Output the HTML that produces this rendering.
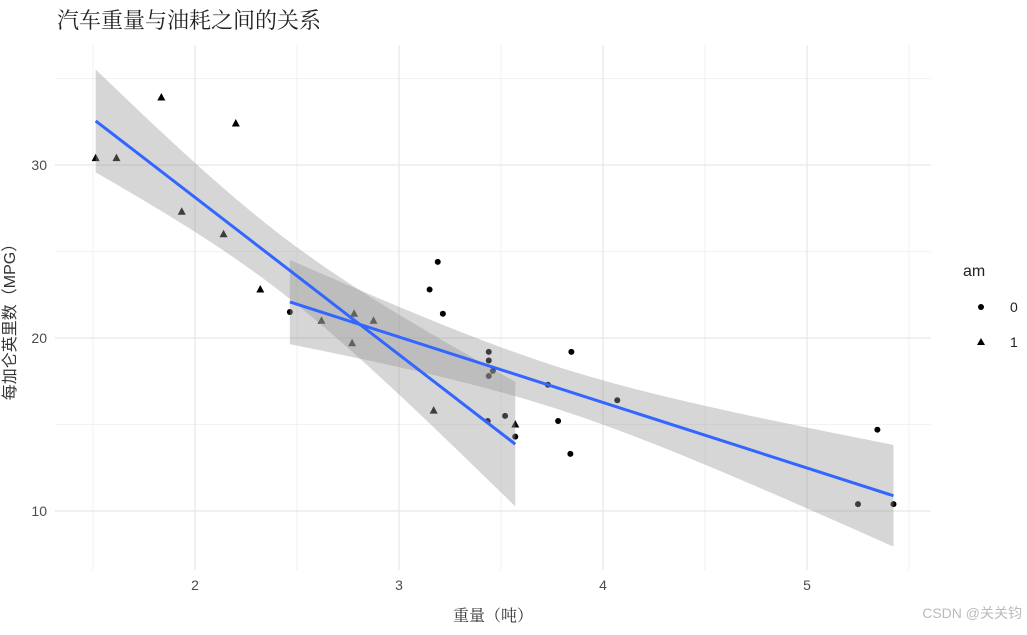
<!DOCTYPE html>
<html><head><meta charset="utf-8"><style>
body{margin:0;background:#fff;}
svg text{font-family:"Liberation Sans","Noto Sans CJK SC",sans-serif;}
</style></head><body>
<svg id="c" width="1027" height="630">
<text x="57" y="28" font-size="22" fill="#222" style="font-family:'Noto Serif CJK SC','Noto Sans CJK SC',serif">汽车重量与油耗之间的关系</text>
<g id="grid"></g><g id="pts"></g><g id="bands"></g><g id="lines"></g><g id="axes"></g>
<text x="493" y="621" font-size="16" text-anchor="middle" fill="#333" style="font-family:'Noto Serif CJK SC','Noto Sans CJK SC',serif">重量（吨）</text>
<text transform="translate(15,318) rotate(-90)" font-size="16" text-anchor="middle" fill="#333">每加仑英里数（MPG）</text>
<g>
<text x="963" y="276" font-size="16" fill="#222">am</text>
<circle cx="981" cy="307" r="3" fill="#000"/>
<text x="1010" y="312" font-size="14" fill="#222">0</text>
<polygon points="981,338 985,345 977,345" fill="#000"/>
<text x="1010" y="347" font-size="14" fill="#222">1</text>
</g>
<text x="1022" y="618" font-size="14" text-anchor="end" fill="#bbb">CSDN @关关钧</text>
</svg>
<script>
const wt=[2.620,2.875,2.320,3.215,3.440,3.460,3.570,3.190,3.150,3.440,3.440,4.070,3.730,3.780,5.250,5.424,5.345,2.200,1.615,1.835,2.465,3.520,3.435,3.840,3.845,1.935,2.140,1.513,3.170,2.770,3.570,2.780];
const mpg=[21.0,21.0,22.8,21.4,18.7,18.1,14.3,24.4,22.8,19.2,17.8,16.4,17.3,15.2,10.4,10.4,14.7,32.4,30.4,33.9,21.5,15.5,15.2,13.3,19.2,27.3,26.0,30.4,15.8,19.7,15.0,21.4];
const am=[1,1,1,0,0,0,0,0,0,0,0,0,0,0,0,0,0,1,1,1,0,0,0,0,0,1,1,1,1,1,1,1];
const xTicks=[2,3,4,5];
const yTicks=[10,20,30];
const tq={0:2.110,1:2.201};
const NS='http://www.w3.org/2000/svg';
const X=v=>195+(v-2)*204, Y=v=>338-(v-20)*17.3;
const L=55,R=931,T=45,B=570;
function mk(tag,attrs,parent){const e=document.createElementNS(NS,tag);for(const k in attrs)e.setAttribute(k,attrs[k]);document.getElementById(parent).appendChild(e);return e;}
// grid
[1.5,2.5,3.5,4.5,5.5].forEach(v=>{const e=mk('line',{x1:X(v),x2:X(v),y1:T,y2:B,stroke:'#f2f2f2','stroke-width':1},'grid');

});
[15,25,35].forEach(v=>{const e=mk('line',{x1:L,x2:R,y1:Y(v),y2:Y(v),stroke:'#f2f2f2','stroke-width':1},'grid');

});
xTicks.forEach(v=>{const e=mk('line',{x1:X(v),x2:X(v),y1:T,y2:B,stroke:'#e6e6e6','stroke-width':1.2},'grid');


const t=mk('text',{x:X(v),y:590,'font-size':14,'text-anchor':'middle',fill:'#4d4d4d'},'axes');t.textContent=v;

});
yTicks.forEach(v=>{const e=mk('line',{x1:L,x2:R,y1:Y(v),y2:Y(v),stroke:'#e6e6e6','stroke-width':1.2},'grid');


const t=mk('text',{x:47,y:Y(v)+5,'font-size':14,'text-anchor':'end',fill:'#4d4d4d'},'axes');t.textContent=v;

});
// points
wt.forEach((w,i)=>{const x=X(w),y=Y(mpg[i]);let e;
if(am[i]==0)e=mk('circle',{cx:x,cy:y,r:3,fill:'#000'},'pts');
else e=mk('polygon',{points:`${x},${y-4.5} ${x+4},${y+3} ${x-4},${y+3}`,fill:'#000'},'pts');

});
// fits
[0,1].forEach(g=>{const xs=[],ys=[];wt.forEach((w,i)=>{if(am[i]==g){xs.push(w);ys.push(mpg[i]);}});
const n=xs.length,mx=xs.reduce((a,b)=>a+b)/n,my=ys.reduce((a,b)=>a+b)/n;
let sxx=0,sxy=0;xs.forEach((x,i)=>{sxx+=(x-mx)**2;sxy+=(x-mx)*(ys[i]-my);});
const b=sxy/sxx,a=my-b*mx;let sse=0;xs.forEach((x,i)=>sse+=(ys[i]-a-b*x)**2);
const s=Math.sqrt(sse/(n-2)),lo=Math.min(...xs),hi=Math.max(...xs);
const up=[],dn=[];for(let k=0;k<=80;k++){const x=lo+(hi-lo)*k/80,f=a+b*x,se=tq[g]*s*Math.sqrt(1/n+(x-mx)**2/sxx);
up.push(X(x)+','+Y(f+se));dn.unshift(X(x)+','+Y(f-se));}
const band=mk('polygon',{points:up.concat(dn).join(' '),fill:'#999','fill-opacity':0.4},'bands');


const ln=mk('line',{x1:X(lo),y1:Y(a+b*lo),x2:X(hi),y2:Y(a+b*hi),stroke:'#3366FF','stroke-width':3},'lines');

});
</script>
</body></html>
